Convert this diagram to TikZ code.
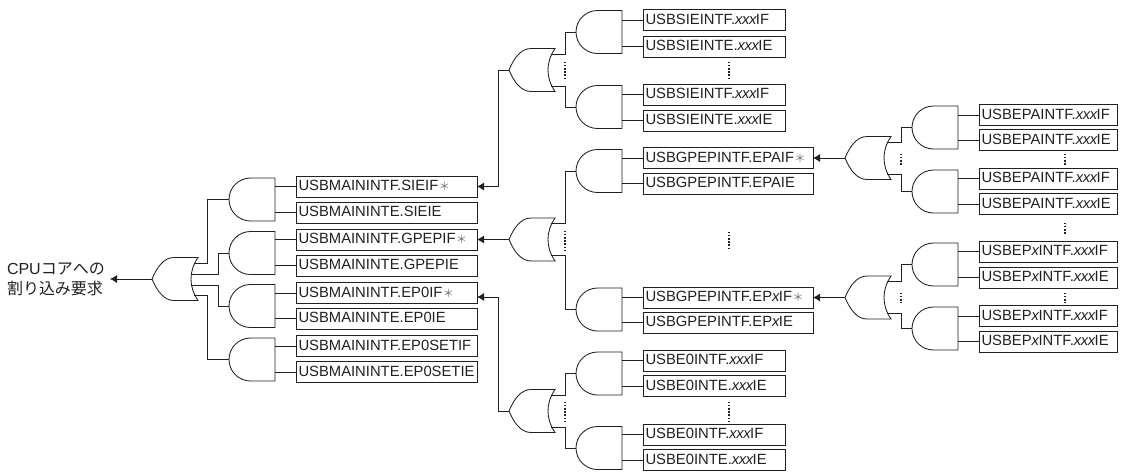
\documentclass[tikz,border=0pt]{standalone}
\usepackage{fontspec}
\setmainfont{Liberation Sans}
\newfontfamily\cjk{Noto Sans CJK JP}
\usetikzlibrary{arrows.meta}
\definecolor{ink}{HTML}{231F20}
\definecolor{stargrey}{HTML}{707070}
\newcommand\xxxit{\textit{x\kern-.4pt x\kern-.4pt x}\kern-1pt}
\newcommand\xit{\textit{x}\kern-1pt}
\newcommand\starmark{\kern.5pt{\color{stargrey}\fontsize{11}{11}\selectfont\cjk ＊}}
\tikzset{
  wire/.style={draw=ink,line width=.85pt},
  arrowwire/.style={wire,-{Latex[length=7pt,width=8pt]}},
  gateline/.style={draw=ink,line width=.85pt,fill=white,line join=miter},
  gateslot/.style={rectangle,minimum width=46pt,minimum height=43pt,inner sep=0pt,outer sep=0pt},
  regbox/.style={draw=ink,line width=.9pt,anchor=west,inner xsep=2.5pt,inner ysep=0pt,outer sep=0pt,
    minimum height=21pt,text height=11pt,text depth=3pt,align=left,text=ink,
    font=\fontsize{14.8}{18}\selectfont},
  regA/.style={regbox,text width=176pt},
  regB/.style={regbox,text width=137pt},
  regC/.style={regbox,text width=165pt},
  regD/.style={regbox,text width=133pt},
  dotsv/.style={draw=ink,line width=1.3pt,dash pattern=on 1.3pt off 1.8pt},
  reqtext/.style={anchor=east,inner sep=0pt,outer sep=0pt,text width=103pt,align=left,text=ink,
    font=\fontsize{16}{20}\selectfont}
}
% name, left x, centre y
\newcommand\andg[3]{%
  \node[gateslot] (#1) at (#2+23,#3) {};
  \draw[gateline] (#2+46,#3-21.5) -- (#2+21.5,#3-21.5) arc[start angle=90,end angle=270,radius=21.5pt] -- (#2+46,#3+21.5) -- cycle;
}
% name, tip x, centre y
\newcommand\org[3]{%
  \node[gateslot] (#1) at (#2+23,#3) {};
  \coordinate (#1u) at (#2+41.5,#3-16);
  \coordinate (#1l) at (#2+41.5,#3+16);
  \coordinate (#1p) at (#2+39,#3-5);
  \coordinate (#1q) at (#2+39,#3+6);
  \draw[gateline] (#2,#3) .. controls (#2+5,#3-12) and (#2+12,#3-21.5) .. (#2+22,#3-21.5)
    -- (#2+46,#3-21.5) .. controls (#2+41,#3-14) and (#2+39,#3-7) .. (#2+39,#3)
    .. controls (#2+39,#3+7) and (#2+41,#3+14) .. (#2+46,#3+21.5)
    -- (#2+22,#3+21.5) .. controls (#2+12,#3+21.5) and (#2+5,#3+12) .. (#2,#3) -- cycle;
}
% from, x-coordinate name, to
\newcommand\elbow[3]{\draw[wire] (#1) -- (#1 -| #2) |- (#3);}
\newcommand\feed[2]{\draw[wire] (#1.west) -- (#1.west -| #2.east);}
\newcommand\vdotsat[3]{\draw[dotsv] (#1,#2) -- (#1,#3);}
\begin{document}
\begin{tikzpicture}[x=1pt,y=-1pt]
\useasboundingbox (0,0) rectangle (1122,472);
% ---- main column
\node[reqtext] (req) at (110,279) {CPU{\cjk コアへの}\\{\cjk 割り込み要求}};
\org{orM}{152}{279}
\andg{gM1}{229}{199.5}
\andg{gM2}{229}{253}
\andg{gM3}{229}{306}
\andg{gM4}{229}{359.5}
\node[regA] (m1) at (296,186.5) {USBMAININTF.SIEIF\starmark};
\node[regA] (m2) at (296,212.5) {USBMAININTE.SIEIE};
\node[regA] (m3) at (296,239.5) {USBMAININTF.GPEPIF\starmark};
\node[regA] (m4) at (296,265.5) {USBMAININTE.GPEPIE};
\node[regA] (m5) at (296,293) {USBMAININTF.EP0IF\starmark};
\node[regA] (m6) at (296,318.5) {USBMAININTE.EP0IE};
\node[regA] (m7) at (296,346) {USBMAININTF.EP0SETIF};
\node[regA] (m8) at (296,372) {USBMAININTE.EP0SETIE};
\feed{m1}{gM1}\feed{m2}{gM1}\feed{m3}{gM2}\feed{m4}{gM2}
\feed{m5}{gM3}\feed{m6}{gM3}\feed{m7}{gM4}\feed{m8}{gM4}
\coordinate (jM1) at (207,0);
\coordinate (jM2) at (218,0);
\elbow{orMu}{jM1}{gM1.west}
\elbow{orMp}{jM2}{gM2.west}
\elbow{orMq}{jM2}{gM3.west}
\elbow{orMl}{jM1}{gM4.west}
\draw[arrowwire] (orM.west) -- (req.east);
% ---- SIE group
\org{orS}{509}{70}
\andg{gS1}{576}{32}
\andg{gS2}{576}{107}
\node[regB] (s1) at (643,20) {USBSIEINTF.\xxxit IF};
\node[regB] (s2) at (643,46.5) {USBSIEINTE.\xxxit IE};
\node[regB] (s3) at (643,94.5) {USBSIEINTF.\xxxit IF};
\node[regB] (s4) at (643,120.5) {USBSIEINTE.\xxxit IE};
\feed{s1}{gS1}\feed{s2}{gS1}\feed{s3}{gS2}\feed{s4}{gS2}
\coordinate (jS) at (565,0);
\coordinate (aS) at (498,0);
\elbow{orSu}{jS}{gS1.west}
\elbow{orSl}{jS}{gS2.west}
\vdotsat{565}{62}{80}
\vdotsat{729}{62}{80}
\draw[arrowwire] (orS.west) -- (orS.west -| aS) |- (m1.east);
% ---- GPEP group
\org{orG}{509}{239.5}
\andg{gG1}{576}{171}
\andg{gG2}{576}{309.5}
\node[regC] (g1) at (643,158) {USBGPEPINTF.EPAIF\starmark};
\node[regC] (g2) at (643,183.5) {USBGPEPINTF.EPAIE};
\node[regC] (g3) at (643,297.5) {USBGPEPINTF.EP\xit IF\starmark};
\node[regC] (g4) at (643,322.5) {USBGPEPINTF.EP\xit IE};
\feed{g1}{gG1}\feed{g2}{gG1}\feed{g3}{gG2}\feed{g4}{gG2}
\coordinate (jG) at (565,0);
\elbow{orGu}{jG}{gG1.west}
\elbow{orGl}{jG}{gG2.west}
\vdotsat{565}{231}{250}
\vdotsat{729}{232}{249}
\draw[arrowwire] (orG.west) -- (m3.east);
% ---- E0 group
\org{orE}{509}{411}
\andg{gE1}{576}{373.5}
\andg{gE2}{576}{448}
\node[regB] (e1) at (643,360.5) {USBE0INTF.\xxxit IF};
\node[regB] (e2) at (643,386) {USBE0INTE.\xxxit IE};
\node[regB] (e3) at (643,434.5) {USBE0INTF.\xxxit IF};
\node[regB] (e4) at (643,460) {USBE0INTE.\xxxit IE};
\feed{e1}{gE1}\feed{e2}{gE1}\feed{e3}{gE2}\feed{e4}{gE2}
\coordinate (jE) at (565,0);
\coordinate (aE) at (498,0);
\elbow{orEu}{jE}{gE1.west}
\elbow{orEl}{jE}{gE2.west}
\vdotsat{565}{402}{421}
\vdotsat{729}{402}{421}
\coordinate (m5in) at ([yshift=-4pt]m5.east);
\draw[arrowwire] (orE.west) -- (orE.west -| aE) |- (m5in);
% ---- EPA group
\org{orP}{845}{158}
\andg{gP1}{912}{127.5}
\andg{gP2}{912}{191.5}
\node[regD] (p1) at (979,115) {USBEPAINTF.\xxxit IF};
\node[regD] (p2) at (979,140) {USBEPAINTF.\xxxit IE};
\node[regD] (p3) at (979,178.5) {USBEPAINTF.\xxxit IF};
\node[regD] (p4) at (979,204) {USBEPAINTF.\xxxit IE};
\feed{p1}{gP1}\feed{p2}{gP1}\feed{p3}{gP2}\feed{p4}{gP2}
\coordinate (jP) at (901,0);
\elbow{orPu}{jP}{gP1.west}
\elbow{orPl}{jP}{gP2.west}
\vdotsat{901}{154}{165}
\vdotsat{1065}{154}{165}
\draw[arrowwire] (orP.west) -- (g1.east);
% ---- EPx group
\org{orX}{845}{297.5}
\andg{gX1}{912}{264.5}
\andg{gX2}{912}{328.5}
\node[regD] (x1) at (979,251.5) {USBEP\xit INTF.\xxxit IF};
\node[regD] (x2) at (979,277.5) {USBEP\xit INTF.\xxxit IE};
\node[regD] (x3) at (979,316) {USBEP\xit INTF.\xxxit IF};
\node[regD] (x4) at (979,341.5) {USBEP\xit INTF.\xxxit IE};
\feed{x1}{gX1}\feed{x2}{gX1}\feed{x3}{gX2}\feed{x4}{gX2}
\coordinate (jX) at (901,0);
\elbow{orXu}{jX}{gX1.west}
\elbow{orXl}{jX}{gX2.west}
\vdotsat{901}{293}{303}
\vdotsat{1065}{293}{303}
\vdotsat{1065}{223}{234}
\draw[arrowwire] (orX.west) -- (g3.east);
\end{tikzpicture}
\end{document}
